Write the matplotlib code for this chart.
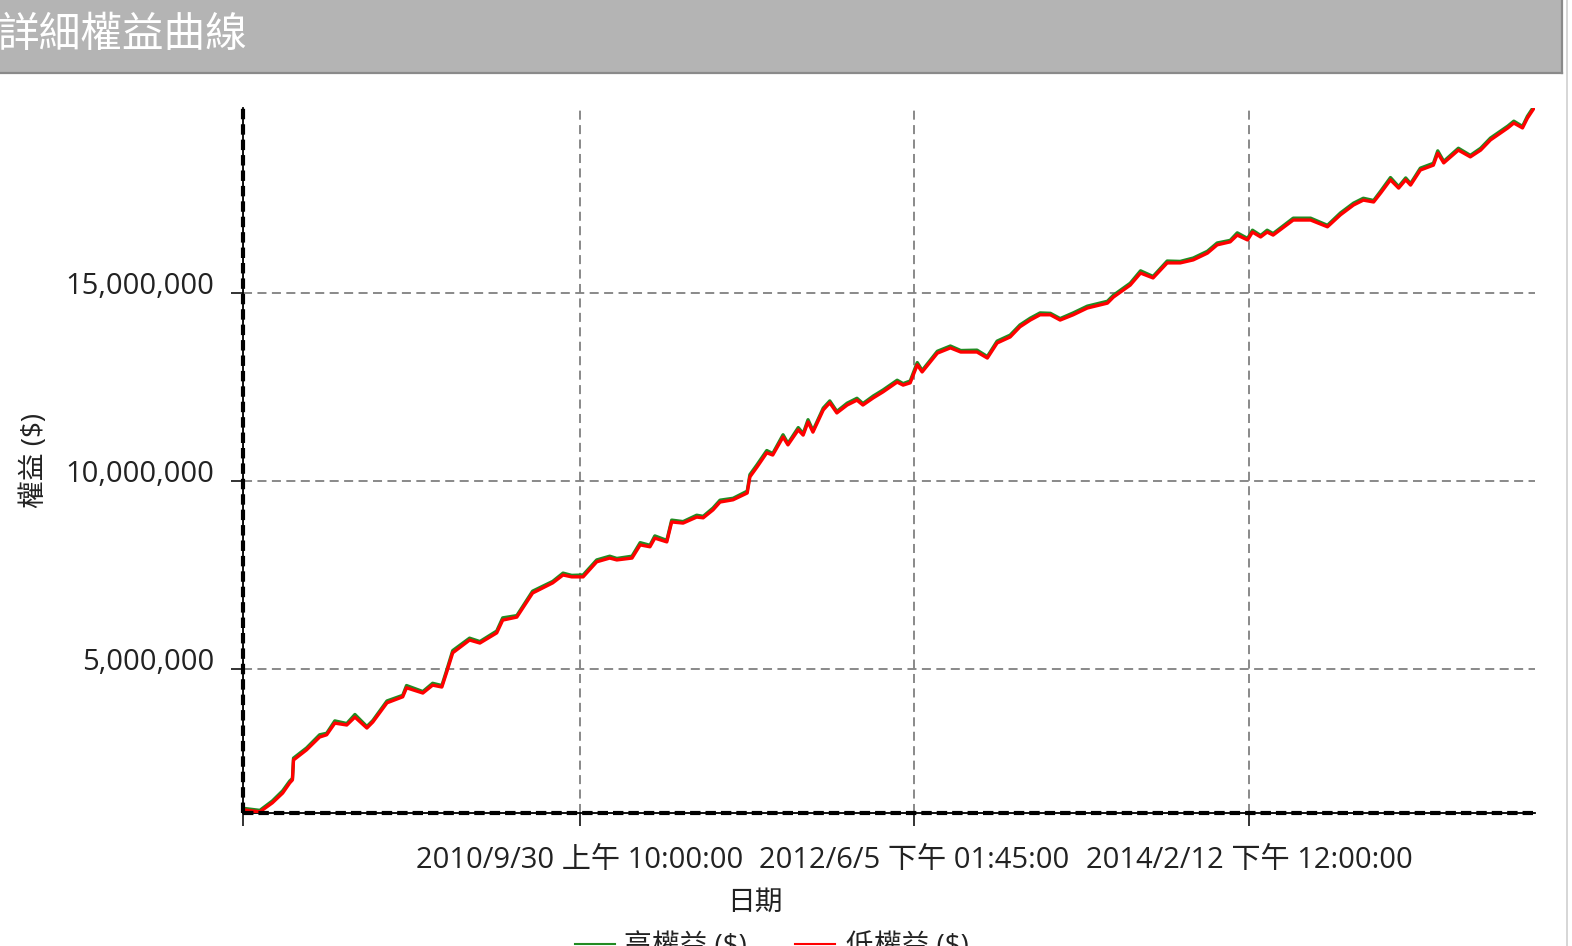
import numpy as np
import matplotlib
matplotlib.use("Agg")
import matplotlib.pyplot as plt
import matplotlib.dates as mdates
from matplotlib.patches import Rectangle
from matplotlib.lines import Line2D
from matplotlib.transforms import ScaledTranslation

plt.rcParams['font.family'] = ['Open Sans', 'Noto Sans CJK TC', 'DejaVu Sans']

# 日期 (讀圖估計)
dates = [
    "2009-01-21", "2009-02-18", "2009-03-13", "2009-04-01", "2009-04-14",
    "2009-04-19", "2009-04-21", "2009-05-15", "2009-06-08", "2009-06-21",
    "2009-07-06", "2009-07-28", "2009-08-12", "2009-09-03", "2009-09-14",
    "2009-10-10", "2009-11-08", "2009-11-15", "2009-12-15", "2010-01-02",
    "2010-01-19", "2010-01-28", "2010-02-08", "2010-03-11", "2010-03-30",
    "2010-04-30", "2010-05-11", "2010-06-06", "2010-07-05", "2010-08-11",
    "2010-08-30", "2010-09-15", "2010-10-06", "2010-10-31", "2010-11-24",
    "2010-12-07", "2011-01-04", "2011-01-19", "2011-02-06", "2011-02-15",
    "2011-03-09", "2011-03-18", "2011-04-08", "2011-05-03", "2011-05-15",
    "2011-06-02", "2011-06-15", "2011-07-09", "2011-08-04", "2011-08-09",
    "2011-08-22", "2011-09-09", "2011-09-20", "2011-10-09", "2011-10-18",
    "2011-11-06", "2011-11-15", "2011-11-24", "2011-12-03", "2011-12-22",
    "2012-01-03", "2012-01-16", "2012-02-04", "2012-02-22", "2012-03-04",
    "2012-03-23", "2012-04-10", "2012-05-06", "2012-05-17", "2012-05-30",
    "2012-06-12", "2012-06-21", "2012-07-19", "2012-08-12", "2012-08-31",
    "2012-09-30", "2012-10-19", "2012-11-06", "2012-11-30", "2012-12-18",
    "2013-01-06", "2013-01-24", "2013-02-12", "2013-03-02", "2013-03-26",
    "2013-04-21", "2013-05-28", "2013-06-08", "2013-07-09", "2013-07-28",
    "2013-08-20", "2013-09-15", "2013-10-09", "2013-11-02", "2013-11-28",
    "2013-12-16", "2014-01-09", "2014-01-22", "2014-02-10", "2014-02-19",
    "2014-03-06", "2014-03-18", "2014-03-29", "2014-05-05", "2014-06-06",
    "2014-07-07", "2014-07-31", "2014-08-24", "2014-09-11", "2014-09-30",
    "2014-10-13", "2014-10-31", "2014-11-15", "2014-11-28", "2014-12-07",
    "2014-12-25", "2015-01-18", "2015-01-26", "2015-02-06", "2015-03-05",
    "2015-03-27", "2015-04-15", "2015-05-03", "2015-06-04", "2015-06-15",
    "2015-07-01", "2015-07-10", "2015-07-21",
]

# 低權益 (百萬)
low_equity = [
    1.25, 1.20, 1.44, 1.70, 1.97, 2.05, 2.58, 2.85, 3.19, 3.25,
    3.56, 3.51, 3.72, 3.43, 3.59, 4.10, 4.26, 4.50, 4.36, 4.57,
    4.52, 4.92, 5.43, 5.77, 5.69, 5.96, 6.30, 6.38, 7.02, 7.29,
    7.50, 7.45, 7.45, 7.85, 7.95, 7.90, 7.95, 8.30, 8.25, 8.48,
    8.38, 8.91, 8.88, 9.04, 9.02, 9.23, 9.44, 9.50, 9.68, 10.11,
    10.37, 10.75, 10.69, 11.17, 10.96, 11.36, 11.22, 11.57, 11.30, 11.89,
    12.08, 11.81, 12.02, 12.15, 12.02, 12.21, 12.37, 12.63, 12.55, 12.61,
    13.09, 12.90, 13.40, 13.54, 13.43, 13.43, 13.27, 13.67, 13.83, 14.10,
    14.28, 14.42, 14.42, 14.28, 14.42, 14.60, 14.73, 14.89, 15.21, 15.53,
    15.40, 15.80, 15.80, 15.88, 16.06, 16.28, 16.36, 16.54, 16.41, 16.62,
    16.49, 16.62, 16.54, 16.94, 16.94, 16.76, 17.08, 17.34, 17.47, 17.42,
    17.66, 18.01, 17.79, 18.01, 17.87, 18.27, 18.40, 18.72, 18.46, 18.80,
    18.62, 18.80, 19.07, 19.39, 19.52, 19.39, 19.65, 19.89,
]

# 高權益 (百萬)
high_equity = [
    1.29, 1.24, 1.49, 1.76, 2.02, 2.09, 2.63, 2.90, 3.25, 3.29,
    3.62, 3.55, 3.79, 3.47, 3.63, 4.15, 4.30, 4.56, 4.40, 4.62,
    4.56, 4.97, 5.49, 5.82, 5.73, 6.01, 6.36, 6.42, 7.07, 7.33,
    7.55, 7.49, 7.50, 7.90, 8.00, 7.94, 8.00, 8.36, 8.29, 8.54,
    8.42, 8.96, 8.92, 9.09, 9.06, 9.28, 9.49, 9.54, 9.73, 10.17,
    10.43, 10.81, 10.73, 11.23, 11.00, 11.42, 11.26, 11.63, 11.34, 11.94,
    12.13, 11.85, 12.07, 12.20, 12.06, 12.26, 12.42, 12.68, 12.59, 12.66,
    13.15, 12.94, 13.45, 13.59, 13.47, 13.48, 13.31, 13.72, 13.88, 14.15,
    14.33, 14.47, 14.46, 14.32, 14.47, 14.65, 14.78, 14.94, 15.26, 15.59,
    15.44, 15.85, 15.84, 15.93, 16.11, 16.33, 16.40, 16.60, 16.45, 16.67,
    16.53, 16.67, 16.58, 16.99, 16.99, 16.80, 17.13, 17.39, 17.52, 17.46,
    17.71, 18.07, 17.83, 18.06, 17.91, 18.32, 18.45, 18.78, 18.50, 18.85,
    18.66, 18.85, 19.12, 19.44, 19.57, 19.43, 19.70, 19.94,
]

x_ticks = ["2009-01-18", "2010-09-30 10:00", "2012-06-05 13:45", "2014-02-12 12:00"]
x_tick_labels = ["", "2010/9/30 上午 10:00:00", "2012/6/5 下午 01:45:00", "2014/2/12 下午 12:00:00"]
y_ticks = [5, 10, 15]
y_tick_labels = ["5,000,000", "10,000,000", "15,000,000"]

W, H = 1572, 946
fig = plt.figure(figsize=(W / 100, H / 100), dpi=100)
fig.patch.set_facecolor('white')

# 標題列
fig.patches.append(Rectangle((0, 1 - 73 / H), 1562 / W, 73 / H, transform=fig.transFigure,
                             facecolor='#b4b4b4', edgecolor='none'))
fig.add_artist(Line2D([0, 1562 / W], [1 - 73 / H, 1 - 73 / H], transform=fig.transFigure,
                      color='#8a8a8a', lw=1.6))
fig.add_artist(Line2D([1562 / W, 1562 / W], [1, 1 - 73 / H], transform=fig.transFigure,
                      color='#8a8a8a', lw=1.6))
fig.add_artist(Line2D([1567 / W, 1567 / W], [0, 1], transform=fig.transFigure,
                      color='#d0d0d0', lw=1.2))
fig.text(-0.002, 1 - 36 / H, "詳細權益曲線", color='white', fontsize=30,
         family=['Noto Sans CJK TC'], va='center', ha='left')

ax = fig.add_axes([243 / W, 1 - 813 / H, (1535 - 243) / W, (813 - 108) / H])
x = mdates.datestr2num(dates)
ax.plot(x, high_equity, color='#228b22', lw=2.4, zorder=3)
ax.plot(x, low_equity, color='#ff0000', lw=2.4, zorder=4)

ax.set_xlim(mdates.datestr2num("2009-01-18"), mdates.datestr2num("2015-07-24"))
ax.set_ylim(1.17, 19.92)

ax.set_xticks(mdates.datestr2num(x_ticks))
ax.set_xticklabels(x_tick_labels)
ax.set_yticks(y_ticks)
ax.set_yticklabels(y_tick_labels)
ax.tick_params(axis='both', length=9, width=1.3, color='#222222', labelsize=21,
               labelcolor='#222222')
ax.tick_params(axis='y', pad=12)
ax.tick_params(axis='x', pad=15)
for lab in ax.get_yticklabels():
    lab.set_transform(lab.get_transform() + ScaledTranslation(0, 0.10, fig.dpi_scale_trans))

ax.grid(True, color='#808080', lw=1.3, linestyle=(0, (5, 3)))
for s in ['top', 'right']:
    ax.spines[s].set_visible(False)
for s in ['left', 'bottom']:
    ax.spines[s].set_color('black')
    ax.spines[s].set_linewidth(1.3)
# 粗虛線邊框
ax.axhline(1.17, color='black', lw=3, linestyle=(0, (2.5, 1.2)), clip_on=False, zorder=5)
ax.axvline(mdates.datestr2num("2009-01-18"), color='black', lw=3, linestyle=(0, (2.5, 1.2)),
           clip_on=False, zorder=5)

fig.text(755 / W, 1 - 903 / H, "日期", fontsize=20, color='#222222', ha='center', va='center')
fig.text(35 / W, 1 - 460 / H, "權益 ($)", fontsize=20, color='#222222', ha='center',
         va='center', rotation=90)

# 圖例 (底部被裁切)
fig.add_artist(Line2D([575 / W, 615 / W], [1 - 944 / H, 1 - 944 / H], transform=fig.transFigure,
                      color='#228b22', lw=1.5))
fig.text(624 / W, 1 - 947 / H, "高權益 ($)", fontsize=20, color='#222222', ha='left', va='center')
fig.add_artist(Line2D([795 / W, 835 / W], [1 - 944 / H, 1 - 944 / H], transform=fig.transFigure,
                      color='#ff0000', lw=1.5))
fig.text(846 / W, 1 - 947 / H, "低權益 ($)", fontsize=20, color='#222222', ha='left', va='center')

fig.savefig("out.png", dpi=100)
